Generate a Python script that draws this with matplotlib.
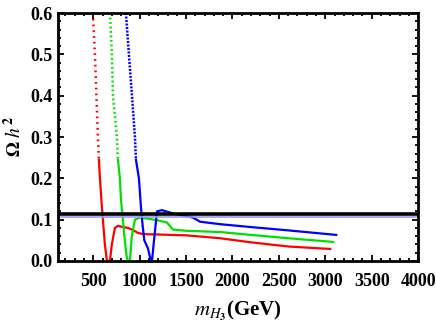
import numpy as np
import matplotlib
matplotlib.use('Agg')
import matplotlib.pyplot as plt
from matplotlib.ticker import MultipleLocator, FormatStrFormatter

plt.rcParams['font.family'] = ['Liberation Serif', 'DejaVu Serif']
plt.rcParams['mathtext.fontset'] = 'stix'

# relic density curves (m_H3 in GeV, Omega h^2)
red_x = [496, 518, 534, 550, 561, 572, 590, 604, 625, 647, 665, 680, 700, 733, 766,
         820, 874, 928, 980, 1036, 1200, 1500, 1866, 2200, 2600, 3053]
red_y = [0.60, 0.50, 0.40, 0.30, 0.245, 0.20, 0.14, 0.10, 0.04, 0.0, 0.0, 0.0, 0.04, 0.08, 0.085,
         0.082, 0.080, 0.075, 0.068, 0.065, 0.064, 0.062, 0.055, 0.045, 0.035, 0.029]

green_x = [680, 701, 712, 755, 766, 787, 798, 815, 840, 860, 874, 895, 915, 949, 1003,
           1100, 1200, 1294, 1359, 1500, 1866, 2200, 2600, 3085]
green_y = [0.60, 0.50, 0.40, 0.30, 0.245, 0.20, 0.15, 0.11, 0.05, 0.01, 0.0, 0.0, 0.06, 0.10, 0.105,
           0.102, 0.098, 0.093, 0.076, 0.073, 0.070, 0.063, 0.055, 0.046]

blue_x = [852, 884, 917, 949, 960, 992, 1014, 1030, 1050, 1070, 1090, 1110, 1133, 1150,
          1187, 1240, 1300, 1359, 1575, 1650, 1866, 2200, 2600, 3118]
blue_y = [0.60, 0.50, 0.40, 0.30, 0.245, 0.20, 0.13, 0.09, 0.05, 0.04, 0.03, 0.01, 0.0, 0.04,
          0.12, 0.123, 0.119, 0.115, 0.105, 0.095, 0.089, 0.082, 0.074, 0.063]

# observed relic density band
omega_black = 0.1125
omega_band = 0.1075

fig = plt.figure(figsize=(4.36, 3.27), dpi=100)
ax = fig.add_axes([0.133, 0.202, 0.826, 0.758])

styles = [(red_x, red_y, '#ff0000', (0, (0.7, 1.6))),
          (green_x, green_y, '#00e000', (0, (0.7, 1.1))),
          (blue_x, blue_y, '#0000ff', (0, (0.8, 0.6)))]
for xs, ys, col, dots in styles:
    xs = np.array(xs)
    ys = np.array(ys)
    k = (ys >= 0.245).sum()
    ax.plot(xs[:k], ys[:k], color=col, lw=1.8, ls=dots)
    ax.plot(xs[k - 1:], ys[k - 1:], color=col, lw=1.6)

ax.axhline(omega_band, color='#9999ee', lw=1.2)
ax.axhline(omega_black, color='black', lw=2.6)

ax.set_xlim(120, 4000)
ax.set_ylim(0, 0.6)
ax.set_xticks([500, 1000, 1500, 2000, 2500, 3000, 3500, 4000])
ax.xaxis.set_minor_locator(MultipleLocator(100))
ax.yaxis.set_major_locator(MultipleLocator(0.1))
ax.yaxis.set_minor_locator(MultipleLocator(0.02))
ax.yaxis.set_major_formatter(FormatStrFormatter('%.1f'))
ax.tick_params(which='both', direction='in', top=True, right=True, width=1.3)
ax.tick_params(which='major', length=4, labelsize=13)
ax.tick_params(axis='x', which='major', pad=9)
ax.tick_params(axis='y', which='major', pad=4)
ax.tick_params(which='minor', length=2)
for lab in ax.get_xticklabels() + ax.get_yticklabels():
    lab.set_fontweight('bold')
for s in ax.spines.values():
    s.set_linewidth(2)

ax.set_xlabel(r'$\mathbf{\mathit{m}_{\mathit{H}_3}}$(GeV)', fontsize=15, fontweight='bold', labelpad=6)
ax.set_ylabel(r'$\mathbf{\Omega}$ $\mathbf{\mathit{h}^2}$', fontsize=14, fontweight='bold', labelpad=4)

fig.savefig('out.png', dpi=100)
